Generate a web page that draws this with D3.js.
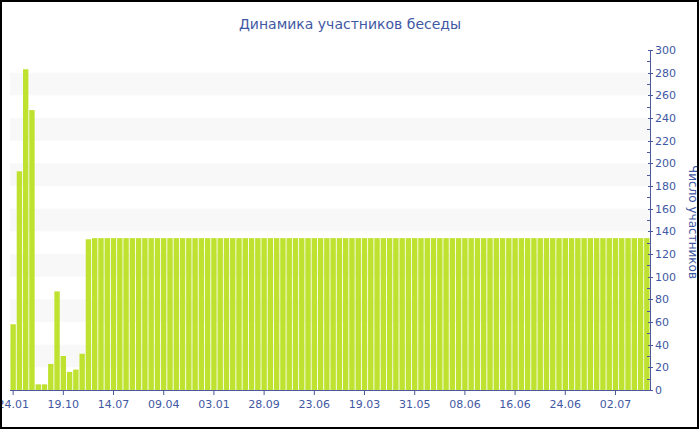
<!DOCTYPE html>
<html><head><meta charset="utf-8">
<script src="https://cdn.jsdelivr.net/npm/d3@7"></script>
<style>html,body{margin:0;padding:0;background:#fff;}svg{display:block;font-family:"DejaVu Sans",Verdana,sans-serif;}</style>
</head><body>
<svg id="c" width="700" height="430"></svg>
<script>
const title = "Динамика участников беседы";
const yTitle = "Число участников";
const headValues = [58,193,283,247,5,5,23,87,30,16,18,32,133];
const tailValues = [134,134,134,134,134,134,134,134,134,134,134,134,134,134,134,134,134,134,134,134,
134,134,134,134,134,134,134,134,134,134,134,134,134,134,134,134,134,134,134,134,
134,134,134,134,134,134,134,134,134,134,134,134,134,134,134,134,134,134,134,134,
134,134,134,134,134,134,134,134,134,134,134,134,134,134,134,134,134,134,134,134,
134,134,134,134,134,134,134,134,134];
const values = headValues.concat(tailValues);
const categories = values.map((v,i)=>i);
const tickLabels = ["24.01","19.10","14.07","09.04","03.01","28.09","23.06","19.03","31.05","08.06","16.06","24.06","02.07"];
const tickStep = 8;
const yTicks = d3.range(0,301,20);
const yMinor = d3.range(10,300,20);
const bands = [[20,40],[60,80],[100,120],[140,160],[180,200],[220,240],[260,280]];

(function(){
const svg = d3.select("#c");
const pL=10, pR=650, pT=50, pB=390;
const x = d3.scaleBand().domain(categories).range([pL,pR]).paddingInner(0.14).paddingOuter(0.07);
const y = d3.scaleLinear().domain([0,300]).range([pB,pT]);
const axisColor = "#4a5a9a", textColor = "#3f58a3";

svg.append("rect").attr("x",0).attr("y",0).attr("width",700).attr("height",430).attr("fill","#fff");

svg.selectAll("rect.band").data(bands).enter().append("rect").attr("class","band")
  .attr("x",pL).attr("width",pR-pL)
  .attr("y",d=>y(d[1])).attr("height",d=>y(d[0])-y(d[1]))
  .attr("fill","#f8f8f8");

svg.selectAll("rect.bar").data(values).enter().append("rect").attr("class","bar")
  .attr("x",(d,i)=>x(i)).attr("width",x.bandwidth())
  .attr("y",d=>y(d)).attr("height",d=>pB-y(d))
  .attr("fill","#bee22f");

const xAxis = d3.axisBottom(x)
  .tickValues(categories.filter(i=>i%tickStep===0))
  .tickFormat(i=>tickLabels[i/tickStep])
  .tickSize(5).tickSizeOuter(0);
const gx = svg.append("g").attr("transform",`translate(0,${pB})`).call(xAxis);
gx.select(".domain").attr("stroke",axisColor).attr("d",`M${pL},0.5H${pR}`);
gx.selectAll(".tick line").attr("stroke",axisColor);
gx.selectAll(".tick text").attr("fill",textColor).attr("font-size","11px").attr("dy","0.9em").attr("font-family","DejaVu Sans");

const gy = svg.append("g").attr("transform",`translate(${pR},0)`);
gy.append("line").attr("x1",0.5).attr("x2",0.5).attr("y1",pT).attr("y2",pB).attr("stroke",axisColor);
gy.selectAll("line.maj").data(yTicks).enter().append("line").attr("class","maj")
  .attr("x1",-2).attr("x2",3).attr("y1",d=>Math.round(y(d))+0.5).attr("y2",d=>Math.round(y(d))+0.5).attr("stroke",axisColor);
gy.selectAll("line.min").data(yMinor).enter().append("line").attr("class","min")
  .attr("x1",-3).attr("x2",0).attr("y1",d=>Math.round(y(d))+0.5).attr("y2",d=>Math.round(y(d))+0.5).attr("stroke",axisColor);
gy.selectAll("text.yl").data(yTicks).enter().append("text").attr("class","yl")
  .attr("x",5).attr("y",d=>y(d)).attr("dy","0.35em")
  .attr("fill",textColor).attr("font-size","11px").text(d=>d);

svg.append("text").attr("transform","translate(689,222) rotate(90)")
  .attr("text-anchor","middle").attr("fill",textColor).attr("font-size","12px").text(yTitle);

svg.append("text").attr("x",350).attr("y",29).attr("text-anchor","middle")
  .attr("fill",textColor).attr("font-size","14px").text(title);

svg.append("rect").attr("x",1).attr("y",1).attr("width",697).attr("height",427)
  .attr("fill","none").attr("stroke","#000").attr("stroke-width",2);
})();
</script>
</body></html>
